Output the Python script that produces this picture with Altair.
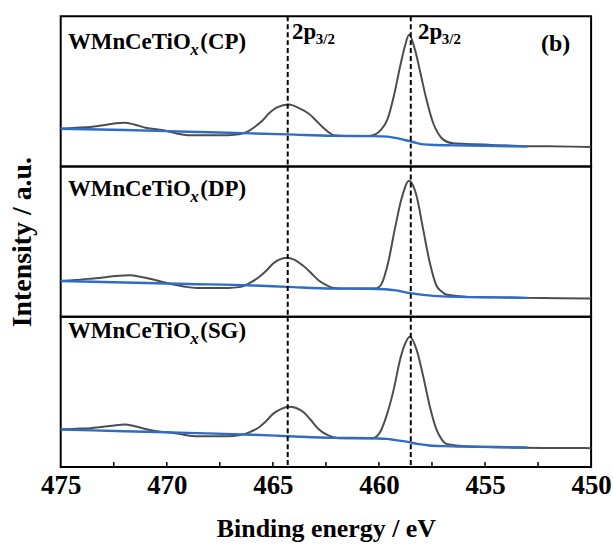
import altair as alt
import pandas as pd

# ---------------- data ----------------
major_ticks = [475, 470, 465, 460, 455, 450]
minor_ticks = [472.5, 470, 467.5, 465, 462.5, 460, 457.5, 455, 452.5]
peak_lines = [464.3, 458.5]

cp_raw_e = [475.0, 474.3, 473.6, 473.0, 472.4, 472.0, 471.5, 471.0, 470.5, 470.0, 469.5, 469.0,
            468.0, 467.1, 466.6, 466.2, 465.8, 465.5, 465.2, 464.8, 464.25, 463.8, 463.3, 463.0,
            462.7, 462.4, 462.15, 461.5, 460.5, 460.15, 459.9, 459.6, 459.3, 459.0, 458.78, 458.58,
            458.3, 458.08, 457.76, 457.45, 457.2, 456.98, 456.5, 455.5, 454.5, 453.4, 452.0, 450.0]
cp_raw_i = [38, 39, 39.7, 41.5, 43.5, 44, 42, 39, 37.5, 35.7, 33, 31.5,
            31.3, 31.5, 32.3, 35, 40.7, 46, 53, 59.5, 62.3, 59, 53, 47,
            40.5, 35, 31.5, 30.7, 30.7, 32.5, 37, 47.3, 70.7, 100.7, 120.7, 132.3,
            117.3, 97.3, 67.3, 44, 33, 27.3, 23.3, 22.5, 21.5, 20.7, 20.3, 19.7]
cp_bg_e = [475.0, 472.0, 469.0, 466.0, 464.3, 462.2, 460.3, 459.6, 459.3, 458.9, 458.6, 458.2,
           457.9, 457.3, 456.5, 455.0, 453.0]
cp_bg_i = [38, 36.7, 35, 33.3, 32.3, 30.8, 30.5, 30, 29, 27.3, 25.7, 23.5,
           22.3, 21.6, 21.3, 20.8, 20]

dp_raw_e = [475.0, 474.3, 473.6, 473.0, 472.4, 471.75, 471.2, 470.8, 470.2, 469.7, 469.2, 468.6,
            467.1, 466.6, 466.3, 466.0, 465.65, 465.3, 465.0, 464.7, 464.33, 464.0, 463.6, 463.2,
            462.85, 462.5, 462.15, 461.5, 460.5, 460.1, 459.87, 459.56, 459.25, 458.94, 458.58, 458.23,
            457.92, 457.61, 457.3, 457.05, 456.83, 455.73, 454.5, 453.08, 451.5, 450.0]
dp_raw_i = [36, 37, 38.3, 39.5, 41, 41.7, 40, 38.3, 35, 32.3, 30.5, 29,
            29, 29.8, 31.7, 35, 40, 46.5, 53.3, 57.5, 59.3, 57.5, 51.7, 44,
            36.7, 32, 29, 28.3, 28.3, 28.8, 33.3, 55, 88.3, 118.3, 136.7, 121.7,
            88.3, 55, 31.7, 25.5, 22.3, 20, 19.5, 19, 18.7, 18.3]
dp_bg_e = [475.0, 472.0, 469.0, 466.0, 464.3, 462.15, 460.5, 459.7, 459.2, 458.58, 458.2, 457.8,
           457.0, 456.3, 454.5, 453.0]
dp_bg_i = [36, 34.5, 33, 31.5, 30, 28.3, 28.2, 27.7, 26.5, 24, 22.7, 21.7,
           20.5, 20, 19.5, 19]

sg_raw_e = [475.0, 474.3, 473.6, 473.0, 472.4, 472.0, 471.5, 471.0, 470.3, 469.7, 469.2, 468.6,
            467.1, 466.6, 466.3, 466.0, 465.65, 465.3, 465.0, 464.6, 464.25, 463.9, 463.55, 463.2,
            462.85, 462.5, 462.15, 461.8, 460.3, 460.1, 459.95, 459.64, 459.3, 459.0, 458.78, 458.55,
            458.23, 457.92, 457.61, 457.3, 457.05, 456.83, 455.73, 454.5, 453.08, 451.5, 450.0]
sg_raw_i = [37.7, 38.5, 39, 40.5, 42, 42.7, 41, 38.3, 35.5, 34.3, 32.5, 31,
            31, 32, 33.3, 36, 40, 46.5, 53.3, 58.5, 60.7, 59.3, 55, 47,
            38.3, 33, 30, 29, 29, 31, 35, 51.7, 78.3, 108.3, 123.3, 131,
            118.3, 91.7, 61.7, 38.3, 28, 23.3, 20.7, 20, 19.3, 19.2, 19]
sg_bg_e = [475.0, 472.0, 469.0, 466.0, 464.25, 462.15, 460.5, 459.64, 459.2, 458.58, 458.2, 457.61,
           457.0, 456.3, 454.5, 453.0]
sg_bg_i = [37.7, 36, 34.3, 32.5, 31, 29.3, 29, 28.3, 27, 25, 23.3, 21.7,
           21, 20.7, 20.2, 19.7]

sample_names = ["CP", "DP", "SG"]

# ---------------- styling ----------------
FONT = "Liberation Serif"
W, H = 533, 151
GRAY = "#4d4d4d"
BLUE = "#2e6cc6"

label_pos = {"CP": (474.66, 117.7), "DP": (474.66, 121.7), "SG": (474.66, 130.0)}
p_label_pos = [(464.1, 128.0), (458.16, 128.0)]
b_label_pos = (451.67, 115.7)


def x_enc(bottom):
    if bottom:
        axis = alt.Axis(values=major_ticks, ticks=False, domain=False, grid=False,
                        labelFont=FONT, labelFontSize=27, labelFontWeight="bold",
                        labelColor="black", labelPadding=6, labelFlush=False,
                        labelOverlap=False, format="d",
                        title="Binding energy / eV", titleFont=FONT, titleFontSize=26,
                        titleFontWeight="bold", titleColor="black", titlePadding=17)
    else:
        axis = None
    return alt.X("e:Q", scale=alt.Scale(domain=[450, 475], reverse=True, nice=False, zero=False),
                 axis=axis)


def y_enc(with_title):
    if with_title:
        axis = alt.Axis(labels=False, ticks=False, domain=False, grid=False,
                        title="Intensity / a.u.", titleFont=FONT, titleFontSize=28,
                        titleFontWeight="bold", titleColor="black", titlePadding=24)
    else:
        axis = None
    return alt.Y("i:Q", scale=alt.Scale(domain=[0, 151], nice=False, zero=False), axis=axis)


def panel(name, raw_e, raw_i, bg_e, bg_i, bottom=False, ytitle=False, top=False):
    X = x_enc(bottom)
    Y = y_enc(ytitle)
    raw = pd.DataFrame({"e": raw_e, "i": raw_i})
    bg = pd.DataFrame({"e": bg_e, "i": bg_i})
    layers = []
    layers.append(alt.Chart(raw).mark_line(color=GRAY, strokeWidth=2, interpolate="monotone")
                  .encode(x=X, y=Y))
    layers.append(alt.Chart(bg).mark_line(color=BLUE, strokeWidth=2.4, interpolate="monotone")
                  .encode(x=X, y=Y))
    layers.append(alt.Chart(pd.DataFrame({"e": peak_lines}))
                  .mark_rule(color="black", strokeWidth=2, strokeDash=[5, 3])
                  .encode(x=X))
    lx, ly = label_pos[name]
    lab = pd.DataFrame({"e": [lx], "i": [ly]})
    layers.append(alt.Chart(lab).mark_text(align="left", baseline="alphabetic", font=FONT,
                                           fontWeight="bold", fontSize=23, color="black",
                                           text="WMnCeTiO").encode(x=X, y=Y))
    layers.append(alt.Chart(lab).mark_text(align="left", baseline="alphabetic", font=FONT,
                                           fontWeight="bold", fontStyle="italic", fontSize=17,
                                           color="black", text="x", dx=123, dy=6)
                  .encode(x=X, y=Y))
    layers.append(alt.Chart(lab).mark_text(align="left", baseline="alphabetic", font=FONT,
                                           fontWeight="bold", fontSize=23, color="black",
                                           text="(" + name + ")", dx=133).encode(x=X, y=Y))
    if top:
        pl = pd.DataFrame({"e": [p[0] for p in p_label_pos], "i": [p[1] for p in p_label_pos]})
        layers.append(alt.Chart(pl).mark_text(align="left", baseline="alphabetic", font=FONT,
                                              fontWeight="bold", fontSize=23, color="black",
                                              text="2p").encode(x=X, y=Y))
        layers.append(alt.Chart(pl).mark_text(align="left", baseline="alphabetic", font=FONT,
                                              fontWeight="bold", fontSize=15, color="black",
                                              text="3/2", dx=24, dy=5).encode(x=X, y=Y))
        bl = pd.DataFrame({"e": [b_label_pos[0]], "i": [b_label_pos[1]]})
        layers.append(alt.Chart(bl).mark_text(align="center", baseline="alphabetic", font=FONT,
                                              fontWeight="bold", fontSize=24, color="black",
                                              text="(b)").encode(x=X, y=Y))
    if bottom:
        layers.append(alt.Chart(pd.DataFrame({"e": minor_ticks}))
                      .mark_rule(color="black", strokeWidth=1.5)
                      .encode(x=X, y=alt.value(H), y2=alt.value(H - 5)))
    return alt.layer(*layers).properties(width=W, height=H)


p1 = panel("CP", cp_raw_e, cp_raw_i, cp_bg_e, cp_bg_i, top=True)
p2 = panel("DP", dp_raw_e, dp_raw_i, dp_bg_e, dp_bg_i, ytitle=True)
p3 = panel("SG", sg_raw_e, sg_raw_i, sg_bg_e, sg_bg_i, bottom=True)

chart = (alt.vconcat(p1, p2, p3, spacing=0, bounds="flush")
         .properties(padding={"left": 7, "top": 13, "right": 0, "bottom": 0},
                     background="white")
         .configure_concat(spacing=0)
         .configure_view(stroke="black", strokeWidth=2))

chart.save("out.html", embed_options={"renderer": "svg", "actions": False})
